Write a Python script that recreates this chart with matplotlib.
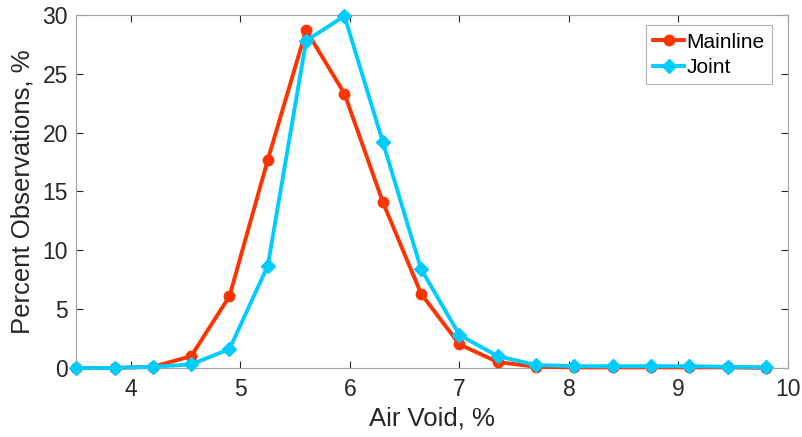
import numpy as np
import matplotlib.pyplot as plt

plt.rcParams['font.family'] = ['Liberation Sans', 'DejaVu Sans']

# datos
air_void = [3.5, 3.85, 4.2, 4.55, 4.9, 5.25, 5.6, 5.95, 6.3, 6.65,
            7.0, 7.35, 7.7, 8.05, 8.4, 8.75, 9.1, 9.45, 9.8]
mainline = [0.0, 0.0, 0.1, 1.0, 6.1, 17.7, 28.7, 23.3, 14.1, 6.3,
            2.0, 0.5, 0.1, 0.05, 0.05, 0.05, 0.05, 0.05, 0.0]
joint = [0.0, 0.0, 0.1, 0.3, 1.6, 8.7, 27.8, 29.9, 19.2, 8.4,
         2.8, 1.0, 0.25, 0.15, 0.15, 0.15, 0.15, 0.1, 0.05]

rojo = '#FF3300'
cian = '#00CCFF'

fig = plt.figure(figsize=(8.02, 4.37), dpi=100)
ax = fig.add_axes([0.095, 0.158, 0.8875, 0.808])

ax.plot(air_void, mainline, '-o', color=rojo, lw=2.8, ms=7.5, label='Mainline', clip_on=False, zorder=3)
ax.plot(air_void, joint, '-D', color=cian, lw=2.8, ms=7, label='Joint', clip_on=False, zorder=4)

ax.set_xlim(3.5, 10)
ax.set_ylim(0, 30)
ax.set_xticks([4, 5, 6, 7, 8, 9, 10])
ax.set_yticks([0, 5, 10, 15, 20, 25, 30])
ax.set_xlabel('Air Void, %', fontsize=18.5, color='#262626', labelpad=4)
ax.set_ylabel('Percent Observations, %', fontsize=18.5, color='#262626', labelpad=6)
ax.tick_params(direction='in', top=True, right=True, labelsize=16.5,
               colors='#262626', length=5, width=0.8)
ax.tick_params(axis='x', pad=7)
ax.tick_params(axis='y', pad=6)
for s in ax.spines.values():
    s.set_color('#A0A0A0')
    s.set_linewidth(0.8)

leg = ax.legend(loc='upper right', fontsize=15, fancybox=False,
                bbox_to_anchor=(0.983, 0.982), handlelength=1.5,
                borderpad=0.35, labelspacing=0.3, handletextpad=0.1,
                borderaxespad=0.2)
leg.get_frame().set_edgecolor('#A0A0A0')
leg.get_frame().set_linewidth(0.8)

plt.savefig('out.png', dpi=100)
